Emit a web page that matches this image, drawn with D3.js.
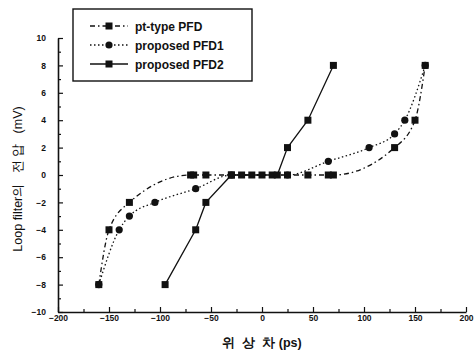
<!DOCTYPE html>
<html>
<head>
<meta charset="utf-8">
<script src="https://cdn.jsdelivr.net/npm/d3@7"></script>
<style>
  html, body { margin: 0; padding: 0; background: #fff; }
  svg { display: block; }
</style>
</head>
<body>
<script>
// phase difference (ps) vs loop filter voltage (mV)
const ptTypeX = [-160, -150, -130, -70, -67, -55, -30, 25, 45, 65, 70, 130, 150, 160];
const ptTypeY = [-8, -4, -2, 0, 0, 0, 0, 0, 0, 0, 0, 2, 4, 8];
const pfd1X = [-160, -140, -130, -105, -65, -30, 25, 65, 105, 130, 140, 160];
const pfd1Y = [-8, -4, -3, -2, -1, 0, 0, 1, 2, 3, 4, 8];
const pfd2X = [-95, -65, -55, -30, -20, -10, 0, 10, 15, 25, 45, 70];
const pfd2Y = [-8, -4, -2, 0, 0, 0, 0, 0, 0, 2, 4, 8];
const seriesNames = ['pt-type PFD', 'proposed PFD1', 'proposed PFD2'];
const xTicks = [-200, -150, -100, -50, 0, 50, 100, 150, 200];
const yTicks = [-10, -8, -6, -4, -2, 0, 2, 4, 6, 8, 10];

const width = 474;
const height = 361;
const margin = { top: 38, right: 8, bottom: 49, left: 58 };

const svg = d3.select('body').append('svg')
    .attr('width', width)
    .attr('height', height)
    .style('font-family', '"Liberation Sans", Arial, sans-serif');

const x = d3.scaleLinear()
    .domain([-200, 200])
    .range([margin.left, width - margin.right]);

const y = d3.scaleLinear()
    .domain([-10, 10])
    .range([height - margin.bottom, margin.top]);

const zip = (xs, ys) => xs.map((v, i) => ({ x: v, y: ys[i] }));

const series = [
    { name: seriesNames[0], data: zip(ptTypeX, ptTypeY), dash: '5,3,1.5,3', marker: 'square', curve: d3.curveMonotoneX },
    { name: seriesNames[1], data: zip(pfd1X, pfd1Y), dash: '1.5,2.5', marker: 'circle', curve: d3.curveMonotoneX },
    { name: seriesNames[2], data: zip(pfd2X, pfd2Y), dash: null, marker: 'square', curve: d3.curveLinear }
];

// axes (ticks point inward)
svg.append('g')
    .attr('transform', `translate(0,${y(-10)})`)
    .call(d3.axisBottom(x).tickValues(xTicks).tickSize(-5).tickSizeOuter(0).tickPadding(3));

svg.append('g')
    .attr('transform', `translate(0,${y(-10)})`)
    .call(d3.axisBottom(x).tickValues(d3.range(-175, 200, 50)).tickSize(-3).tickSizeOuter(0).tickFormat(''))
    .call(g => g.select('.domain').remove());

svg.append('g')
    .attr('transform', `translate(${x(-200)},0)`)
    .call(d3.axisLeft(y).tickValues(yTicks).tickSize(-5).tickSizeOuter(0).tickPadding(12));

svg.append('g')
    .attr('transform', `translate(${x(-200)},0)`)
    .call(d3.axisLeft(y).tickValues(d3.range(-9, 10, 2)).tickSize(-3).tickSizeOuter(0).tickFormat(''))
    .call(g => g.select('.domain').remove());

svg.selectAll('.tick text')
    .style('font-size', '8.5px')
    .style('font-weight', 'bold')
    .style('fill', '#111');
svg.selectAll('.domain').attr('stroke', '#111').attr('stroke-width', 1.6);
svg.selectAll('.tick line').attr('stroke', '#111').attr('stroke-width', 1.2);

// axis titles
svg.append('text')
    .attr('x', x(0))
    .attr('y', 347)
    .attr('text-anchor', 'middle')
    .style('font-size', '12.5px')
    .style('font-weight', 'bold')
    .style('white-space', 'pre')
    .attr('fill', '#111')
    .text('위  상  차 (ps)');

svg.append('text')
    .attr('transform', `translate(22,${(y(10) + y(-10)) / 2 + 4}) rotate(-90)`)
    .attr('text-anchor', 'middle')
    .style('font-size', '12.5px')
    .style('white-space', 'pre')
    .attr('fill', '#111')
    .text('Loop filter의   전 압   (mV)');

// lines
const line = d3.line().x(d => x(d.x)).y(d => y(d.y));

const drawMarker = (g, type, cx, cy) => {
    if (type === 'square') {
        g.append('rect')
            .attr('x', cx - 3.5).attr('y', cy - 3.5)
            .attr('width', 7).attr('height', 7)
            .attr('fill', '#111');
    } else {
        g.append('circle')
            .attr('cx', cx).attr('cy', cy).attr('r', 3.6)
            .attr('fill', '#111');
    }
};

series.forEach(s => {
    svg.append('path')
        .datum(s.data)
        .attr('fill', 'none')
        .attr('stroke', '#111')
        .attr('stroke-width', 1.3)
        .attr('stroke-dasharray', s.dash)
        .attr('d', line.curve(s.curve));
    const g = svg.append('g');
    s.data.forEach(d => drawMarker(g, s.marker, x(d.x), y(d.y)));
});

// legend
const legend = svg.append('g');
legend.append('rect')
    .attr('x', 73).attr('y', 9)
    .attr('width', 179).attr('height', 72)
    .attr('fill', '#fff')
    .attr('stroke', '#111')
    .attr('stroke-width', 1.4);

series.forEach((s, i) => {
    const ly = 26 + i * 19;
    legend.append('line')
        .attr('x1', 90).attr('x2', 128)
        .attr('y1', ly).attr('y2', ly)
        .attr('stroke', '#111')
        .attr('stroke-width', 1.3)
        .attr('stroke-dasharray', s.dash);
    drawMarker(legend, s.marker, 109, ly);
    legend.append('text')
        .attr('x', 135).attr('y', ly + 4.5)
        .style('font-size', '12px')
        .style('font-weight', 'bold')
        .attr('fill', '#111')
        .text(s.name);
});
</script>
</body>
</html>
